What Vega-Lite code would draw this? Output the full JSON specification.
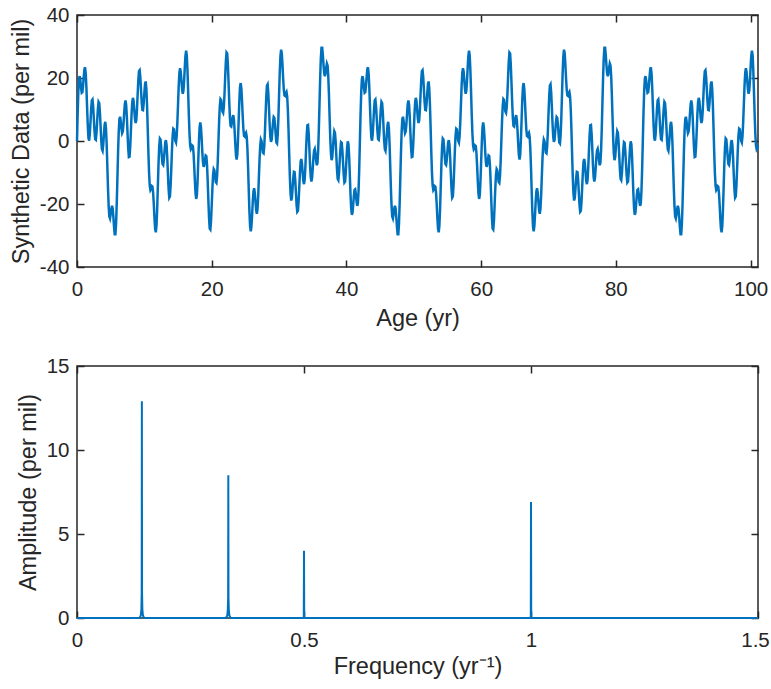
{
"$schema":"https://vega.github.io/schema/vega-lite/v6.json",
"background":"white",
"padding":{"left":8,"top":4,"right":5,"bottom":5},
"spacing":99,
"bounds":"flush",
"config":{
"font":"Liberation Sans",
"view":{"stroke":"#262626","strokeWidth":1.5},
"axis":{"domain":false,"grid":false,"tickSize":-7,"tickColor":"#262626","tickWidth":1.5,"labelFont":"Liberation Sans","labelFontSize":20.5,"labelColor":"#262626","labelFlush":false,"labelOverlap":false,"labelBound":false,"titleFont":"Liberation Sans","titleFontSize":23.5,"titleFontWeight":"normal","titleColor":"#262626"},
"axisX":{"labelPadding":19,"titlePadding":7},
"axisY":{"labelPadding":15,"titlePadding":6}
},
"vconcat":[
{
"width":681,"height":252,
"data":{"values":[
{"t":0,"v":0},{"t":0.1,"v":8.8},{"t":0.2,"v":15.8},{"t":0.3,"v":19.8},{"t":0.4,"v":20.6},{"t":0.5,"v":19.2},{"t":0.6,"v":16.9},{"t":0.7,"v":15.3},{"t":0.8,"v":15.5},{"t":0.9,"v":17.5},
{"t":1,"v":20.4},{"t":1.1,"v":22.8},{"t":1.2,"v":23.4},{"t":1.3,"v":21.3},{"t":1.4,"v":16.7},{"t":1.5,"v":10.6},{"t":1.6,"v":4.9},{"t":1.7,"v":1},{"t":1.8,"v":0.1},{"t":1.9,"v":2.1},
{"t":2,"v":6},{"t":2.1,"v":10.1},{"t":2.2,"v":12.9},{"t":2.3,"v":13.2},{"t":2.4,"v":10.9},{"t":2.5,"v":7.1},{"t":2.6,"v":3.1},{"t":2.7,"v":0.6},{"t":2.8,"v":0.4},{"t":2.9,"v":2.7},
{"t":3,"v":6.5},{"t":3.1,"v":10.2},{"t":3.2,"v":12.4},{"t":3.3,"v":12},{"t":3.4,"v":9.1},{"t":3.5,"v":4.7},{"t":3.6,"v":0.2},{"t":3.7,"v":-2.6},{"t":3.8,"v":-3.1},{"t":3.9,"v":-1.1},
{"t":4,"v":2.2},{"t":4.1,"v":5.1},{"t":4.2,"v":6.1},{"t":4.3,"v":4.1},{"t":4.4,"v":-0.8},{"t":4.5,"v":-7.7},{"t":4.6,"v":-14.9},{"t":4.7,"v":-20.7},{"t":4.8,"v":-24},{"t":4.9,"v":-24.6},
{"t":5,"v":-23.3},{"t":5.1,"v":-21.5},{"t":5.2,"v":-20.6},{"t":5.3,"v":-21.5},{"t":5.4,"v":-24.1},{"t":5.5,"v":-27.3},{"t":5.6,"v":-29.6},{"t":5.7,"v":-29.6},{"t":5.8,"v":-26.3},{"t":5.9,"v":-19.9},
{"t":6,"v":-11.7},{"t":6.1,"v":-3.4},{"t":6.2,"v":3.2},{"t":6.3,"v":7},{"t":6.4,"v":7.7},{"t":6.5,"v":6.2},{"t":6.6,"v":3.9},{"t":6.7,"v":2.5},{"t":6.8,"v":3},{"t":6.9,"v":5.3},
{"t":7,"v":8.7},{"t":7.1,"v":11.7},{"t":7.2,"v":12.9},{"t":7.3,"v":11.5},{"t":7.4,"v":7.7},{"t":7.5,"v":2.5},{"t":7.6,"v":-2.3},{"t":7.7,"v":-5.1},{"t":7.8,"v":-5},{"t":7.9,"v":-1.9},
{"t":8,"v":3.1},{"t":8.1,"v":8.4},{"t":8.2,"v":12.3},{"t":8.3,"v":13.7},{"t":8.4,"v":12.7},{"t":8.5,"v":10},{"t":8.6,"v":7.1},{"t":8.7,"v":5.7},{"t":8.8,"v":6.6},{"t":8.9,"v":9.9},
{"t":9,"v":14.6},{"t":9.1,"v":19.2},{"t":9.2,"v":22.2},{"t":9.3,"v":22.5},{"t":9.4,"v":20.3},{"t":9.5,"v":16.4},{"t":9.6,"v":12.4},{"t":9.7,"v":9.9},{"t":9.8,"v":9.8},{"t":9.9,"v":11.9},
{"t":10,"v":15.2},{"t":10.1,"v":18.1},{"t":10.2,"v":18.9},{"t":10.3,"v":16.6},{"t":10.4,"v":11.3},{"t":10.5,"v":4},{"t":10.6,"v":-3.7},{"t":10.7,"v":-10.2},{"t":10.8,"v":-14.2},{"t":10.9,"v":-15.6},
{"t":11,"v":-15.2},{"t":11.1,"v":-14.3},{"t":11.2,"v":-14.5},{"t":11.3,"v":-16.4},{"t":11.4,"v":-20},{"t":11.5,"v":-24.4},{"t":11.6,"v":-27.9},{"t":11.7,"v":-29},{"t":11.8,"v":-26.9},{"t":11.9,"v":-21.7},
{"t":12,"v":-14.6},{"t":12.1,"v":-7.4},{"t":12.2,"v":-1.9},{"t":12.3,"v":0.8},{"t":12.4,"v":0.5},{"t":12.5,"v":-2},{"t":12.6,"v":-5.1},{"t":12.7,"v":-7.3},{"t":12.8,"v":-7.6},{"t":12.9,"v":-5.9},
{"t":13,"v":-3.1},{"t":13.1,"v":-0.5},{"t":13.2,"v":0.3},{"t":13.3,"v":-1.3},{"t":13.4,"v":-5.3},{"t":13.5,"v":-10.5},{"t":13.6,"v":-15.3},{"t":13.7,"v":-18},{"t":13.8,"v":-17.6},{"t":13.9,"v":-14.1},
{"t":14,"v":-8.7},{"t":14.1,"v":-2.8},{"t":14.2,"v":1.7},{"t":14.3,"v":3.9},{"t":14.4,"v":3.7},{"t":14.5,"v":1.8},{"t":14.6,"v":0},{"t":14.7,"v":-0.5},{"t":14.8,"v":1.5},{"t":14.9,"v":5.9},
{"t":15,"v":11.7},{"t":15.1,"v":17.5},{"t":15.2,"v":21.6},{"t":15.3,"v":23.1},{"t":15.4,"v":22},{"t":15.5,"v":19.3},{"t":15.6,"v":16.5},{"t":15.7,"v":15},{"t":15.8,"v":15.9},{"t":15.9,"v":19},
{"t":16,"v":23.3},{"t":16.1,"v":27},{"t":16.2,"v":28.7},{"t":16.3,"v":27.2},{"t":16.4,"v":22.5},{"t":16.5,"v":15.7},{"t":16.6,"v":8.5},{"t":16.7,"v":2.4},{"t":16.8,"v":-1.4},{"t":16.9,"v":-2.6},
{"t":17,"v":-2.2},{"t":17.1,"v":-1.4},{"t":17.2,"v":-1.6},{"t":17.3,"v":-3.8},{"t":17.4,"v":-7.9},{"t":17.5,"v":-12.7},{"t":17.6,"v":-16.7},{"t":17.7,"v":-18.4},{"t":17.8,"v":-17.1},{"t":17.9,"v":-12.7},
{"t":18,"v":-6.5},{"t":18.1,"v":-0.3},{"t":18.2,"v":4.3},{"t":18.3,"v":5.9},{"t":18.4,"v":4.5},{"t":18.5,"v":0.9},{"t":18.6,"v":-3.3},{"t":18.7,"v":-6.7},{"t":18.8,"v":-8.2},{"t":18.9,"v":-7.6},
{"t":19,"v":-6},{"t":19.1,"v":-4.6},{"t":19.2,"v":-4.8},{"t":19.3,"v":-7.5},{"t":19.4,"v":-12.5},{"t":19.5,"v":-18.6},{"t":19.6,"v":-24.3},{"t":19.7,"v":-27.8},{"t":19.8,"v":-28.1},{"t":19.9,"v":-25.3},
{"t":20,"v":-20.4},{"t":20.1,"v":-15},{"t":20.2,"v":-10.8},{"t":20.3,"v":-8.9},{"t":20.4,"v":-9.3},{"t":20.5,"v":-11.2},{"t":20.6,"v":-13},{"t":20.7,"v":-13.3},{"t":20.8,"v":-11.1},{"t":20.9,"v":-6.3},
{"t":21,"v":0},{"t":21.1,"v":6.3},{"t":21.2,"v":11.1},{"t":21.3,"v":13.3},{"t":21.4,"v":13},{"t":21.5,"v":11.2},{"t":21.6,"v":9.3},{"t":21.7,"v":8.9},{"t":21.8,"v":10.8},{"t":21.9,"v":15},
{"t":22,"v":20.4},{"t":22.1,"v":25.3},{"t":22.2,"v":28.1},{"t":22.3,"v":27.8},{"t":22.4,"v":24.3},{"t":22.5,"v":18.6},{"t":22.6,"v":12.5},{"t":22.7,"v":7.5},{"t":22.8,"v":4.8},{"t":22.9,"v":4.6},
{"t":23,"v":6},{"t":23.1,"v":7.6},{"t":23.2,"v":8.2},{"t":23.3,"v":6.7},{"t":23.4,"v":3.3},{"t":23.5,"v":-0.9},{"t":23.6,"v":-4.5},{"t":23.7,"v":-5.9},{"t":23.8,"v":-4.3},{"t":23.9,"v":0.3},
{"t":24,"v":6.5},{"t":24.1,"v":12.7},{"t":24.2,"v":17.1},{"t":24.3,"v":18.4},{"t":24.4,"v":16.7},{"t":24.5,"v":12.7},{"t":24.6,"v":7.9},{"t":24.7,"v":3.8},{"t":24.8,"v":1.6},{"t":24.9,"v":1.4},
{"t":25,"v":2.2},{"t":25.1,"v":2.6},{"t":25.2,"v":1.4},{"t":25.3,"v":-2.4},{"t":25.4,"v":-8.5},{"t":25.5,"v":-15.7},{"t":25.6,"v":-22.5},{"t":25.7,"v":-27.2},{"t":25.8,"v":-28.7},{"t":25.9,"v":-27},
{"t":26,"v":-23.3},{"t":26.1,"v":-19},{"t":26.2,"v":-15.9},{"t":26.3,"v":-15},{"t":26.4,"v":-16.5},{"t":26.5,"v":-19.3},{"t":26.6,"v":-22},{"t":26.7,"v":-23.1},{"t":26.8,"v":-21.6},{"t":26.9,"v":-17.5},
{"t":27,"v":-11.7},{"t":27.1,"v":-5.9},{"t":27.2,"v":-1.5},{"t":27.3,"v":0.5},{"t":27.4,"v":0},{"t":27.5,"v":-1.8},{"t":27.6,"v":-3.7},{"t":27.7,"v":-3.9},{"t":27.8,"v":-1.7},{"t":27.9,"v":2.8},
{"t":28,"v":8.7},{"t":28.1,"v":14.1},{"t":28.2,"v":17.6},{"t":28.3,"v":18},{"t":28.4,"v":15.3},{"t":28.5,"v":10.5},{"t":28.6,"v":5.3},{"t":28.7,"v":1.3},{"t":28.8,"v":-0.3},{"t":28.9,"v":0.5},
{"t":29,"v":3.1},{"t":29.1,"v":5.9},{"t":29.2,"v":7.6},{"t":29.3,"v":7.3},{"t":29.4,"v":5.1},{"t":29.5,"v":2},{"t":29.6,"v":-0.5},{"t":29.7,"v":-0.8},{"t":29.8,"v":1.9},{"t":29.9,"v":7.4},
{"t":30,"v":14.6},{"t":30.1,"v":21.7},{"t":30.2,"v":26.9},{"t":30.3,"v":29},{"t":30.4,"v":27.9},{"t":30.5,"v":24.4},{"t":30.6,"v":20},{"t":30.7,"v":16.4},{"t":30.8,"v":14.5},{"t":30.9,"v":14.3},
{"t":31,"v":15.2},{"t":31.1,"v":15.6},{"t":31.2,"v":14.2},{"t":31.3,"v":10.2},{"t":31.4,"v":3.7},{"t":31.5,"v":-4},{"t":31.6,"v":-11.3},{"t":31.7,"v":-16.6},{"t":31.8,"v":-18.9},{"t":31.9,"v":-18.1},
{"t":32,"v":-15.2},{"t":32.1,"v":-11.9},{"t":32.2,"v":-9.8},{"t":32.3,"v":-9.9},{"t":32.4,"v":-12.4},{"t":32.5,"v":-16.4},{"t":32.6,"v":-20.3},{"t":32.7,"v":-22.5},{"t":32.8,"v":-22.2},{"t":32.9,"v":-19.2},
{"t":33,"v":-14.6},{"t":33.1,"v":-9.9},{"t":33.2,"v":-6.6},{"t":33.3,"v":-5.7},{"t":33.4,"v":-7.1},{"t":33.5,"v":-10},{"t":33.6,"v":-12.7},{"t":33.7,"v":-13.7},{"t":33.8,"v":-12.3},{"t":33.9,"v":-8.4},
{"t":34,"v":-3.1},{"t":34.1,"v":1.9},{"t":34.2,"v":5},{"t":34.3,"v":5.1},{"t":34.4,"v":2.3},{"t":34.5,"v":-2.5},{"t":34.6,"v":-7.7},{"t":34.7,"v":-11.5},{"t":34.8,"v":-12.9},{"t":34.9,"v":-11.7},
{"t":35,"v":-8.7},{"t":35.1,"v":-5.3},{"t":35.2,"v":-3},{"t":35.3,"v":-2.5},{"t":35.4,"v":-3.9},{"t":35.5,"v":-6.2},{"t":35.6,"v":-7.7},{"t":35.7,"v":-7},{"t":35.8,"v":-3.2},{"t":35.9,"v":3.4},
{"t":36,"v":11.7},{"t":36.1,"v":19.9},{"t":36.2,"v":26.3},{"t":36.3,"v":29.6},{"t":36.4,"v":29.6},{"t":36.5,"v":27.3},{"t":36.6,"v":24.1},{"t":36.7,"v":21.5},{"t":36.8,"v":20.6},{"t":36.9,"v":21.5},
{"t":37,"v":23.3},{"t":37.1,"v":24.6},{"t":37.2,"v":24},{"t":37.3,"v":20.7},{"t":37.4,"v":14.9},{"t":37.5,"v":7.7},{"t":37.6,"v":0.8},{"t":37.7,"v":-4.1},{"t":37.8,"v":-6.1},{"t":37.9,"v":-5.1},
{"t":38,"v":-2.2},{"t":38.1,"v":1.1},{"t":38.2,"v":3.1},{"t":38.3,"v":2.6},{"t":38.4,"v":-0.2},{"t":38.5,"v":-4.7},{"t":38.6,"v":-9.1},{"t":38.7,"v":-12},{"t":38.8,"v":-12.4},{"t":38.9,"v":-10.2},
{"t":39,"v":-6.5},{"t":39.1,"v":-2.7},{"t":39.2,"v":-0.4},{"t":39.3,"v":-0.6},{"t":39.4,"v":-3.1},{"t":39.5,"v":-7.1},{"t":39.6,"v":-10.9},{"t":39.7,"v":-13.2},{"t":39.8,"v":-12.9},{"t":39.9,"v":-10.1},
{"t":40,"v":-6},{"t":40.1,"v":-2.1},{"t":40.2,"v":-0.1},{"t":40.3,"v":-1},{"t":40.4,"v":-4.9},{"t":40.5,"v":-10.6},{"t":40.6,"v":-16.7},{"t":40.7,"v":-21.3},{"t":40.8,"v":-23.4},{"t":40.9,"v":-22.8},
{"t":41,"v":-20.4},{"t":41.1,"v":-17.5},{"t":41.2,"v":-15.5},{"t":41.3,"v":-15.3},{"t":41.4,"v":-16.9},{"t":41.5,"v":-19.2},{"t":41.6,"v":-20.6},{"t":41.7,"v":-19.8},{"t":41.8,"v":-15.8},{"t":41.9,"v":-8.8},
{"t":42,"v":0},{"t":42.1,"v":8.8},{"t":42.2,"v":15.8},{"t":42.3,"v":19.8},{"t":42.4,"v":20.6},{"t":42.5,"v":19.2},{"t":42.6,"v":16.9},{"t":42.7,"v":15.3},{"t":42.8,"v":15.5},{"t":42.9,"v":17.5},
{"t":43,"v":20.4},{"t":43.1,"v":22.8},{"t":43.2,"v":23.4},{"t":43.3,"v":21.3},{"t":43.4,"v":16.7},{"t":43.5,"v":10.6},{"t":43.6,"v":4.9},{"t":43.7,"v":1},{"t":43.8,"v":0.1},{"t":43.9,"v":2.1},
{"t":44,"v":6},{"t":44.1,"v":10.1},{"t":44.2,"v":12.9},{"t":44.3,"v":13.2},{"t":44.4,"v":10.9},{"t":44.5,"v":7.1},{"t":44.6,"v":3.1},{"t":44.7,"v":0.6},{"t":44.8,"v":0.4},{"t":44.9,"v":2.7},
{"t":45,"v":6.5},{"t":45.1,"v":10.2},{"t":45.2,"v":12.4},{"t":45.3,"v":12},{"t":45.4,"v":9.1},{"t":45.5,"v":4.7},{"t":45.6,"v":0.2},{"t":45.7,"v":-2.6},{"t":45.8,"v":-3.1},{"t":45.9,"v":-1.1},
{"t":46,"v":2.2},{"t":46.1,"v":5.1},{"t":46.2,"v":6.1},{"t":46.3,"v":4.1},{"t":46.4,"v":-0.8},{"t":46.5,"v":-7.7},{"t":46.6,"v":-14.9},{"t":46.7,"v":-20.7},{"t":46.8,"v":-24},{"t":46.9,"v":-24.6},
{"t":47,"v":-23.3},{"t":47.1,"v":-21.5},{"t":47.2,"v":-20.6},{"t":47.3,"v":-21.5},{"t":47.4,"v":-24.1},{"t":47.5,"v":-27.3},{"t":47.6,"v":-29.6},{"t":47.7,"v":-29.6},{"t":47.8,"v":-26.3},{"t":47.9,"v":-19.9},
{"t":48,"v":-11.7},{"t":48.1,"v":-3.4},{"t":48.2,"v":3.2},{"t":48.3,"v":7},{"t":48.4,"v":7.7},{"t":48.5,"v":6.2},{"t":48.6,"v":3.9},{"t":48.7,"v":2.5},{"t":48.8,"v":3},{"t":48.9,"v":5.3},
{"t":49,"v":8.7},{"t":49.1,"v":11.7},{"t":49.2,"v":12.9},{"t":49.3,"v":11.5},{"t":49.4,"v":7.7},{"t":49.5,"v":2.5},{"t":49.6,"v":-2.3},{"t":49.7,"v":-5.1},{"t":49.8,"v":-5},{"t":49.9,"v":-1.9},
{"t":50,"v":3.1},{"t":50.1,"v":8.4},{"t":50.2,"v":12.3},{"t":50.3,"v":13.7},{"t":50.4,"v":12.7},{"t":50.5,"v":10},{"t":50.6,"v":7.1},{"t":50.7,"v":5.7},{"t":50.8,"v":6.6},{"t":50.9,"v":9.9},
{"t":51,"v":14.6},{"t":51.1,"v":19.2},{"t":51.2,"v":22.2},{"t":51.3,"v":22.5},{"t":51.4,"v":20.3},{"t":51.5,"v":16.4},{"t":51.6,"v":12.4},{"t":51.7,"v":9.9},{"t":51.8,"v":9.8},{"t":51.9,"v":11.9},
{"t":52,"v":15.2},{"t":52.1,"v":18.1},{"t":52.2,"v":18.9},{"t":52.3,"v":16.6},{"t":52.4,"v":11.3},{"t":52.5,"v":4},{"t":52.6,"v":-3.7},{"t":52.7,"v":-10.2},{"t":52.8,"v":-14.2},{"t":52.9,"v":-15.6},
{"t":53,"v":-15.2},{"t":53.1,"v":-14.3},{"t":53.2,"v":-14.5},{"t":53.3,"v":-16.4},{"t":53.4,"v":-20},{"t":53.5,"v":-24.4},{"t":53.6,"v":-27.9},{"t":53.7,"v":-29},{"t":53.8,"v":-26.9},{"t":53.9,"v":-21.7},
{"t":54,"v":-14.6},{"t":54.1,"v":-7.4},{"t":54.2,"v":-1.9},{"t":54.3,"v":0.8},{"t":54.4,"v":0.5},{"t":54.5,"v":-2},{"t":54.6,"v":-5.1},{"t":54.7,"v":-7.3},{"t":54.8,"v":-7.6},{"t":54.9,"v":-5.9},
{"t":55,"v":-3.1},{"t":55.1,"v":-0.5},{"t":55.2,"v":0.3},{"t":55.3,"v":-1.3},{"t":55.4,"v":-5.3},{"t":55.5,"v":-10.5},{"t":55.6,"v":-15.3},{"t":55.7,"v":-18},{"t":55.8,"v":-17.6},{"t":55.9,"v":-14.1},
{"t":56,"v":-8.7},{"t":56.1,"v":-2.8},{"t":56.2,"v":1.7},{"t":56.3,"v":3.9},{"t":56.4,"v":3.7},{"t":56.5,"v":1.8},{"t":56.6,"v":0},{"t":56.7,"v":-0.5},{"t":56.8,"v":1.5},{"t":56.9,"v":5.9},
{"t":57,"v":11.7},{"t":57.1,"v":17.5},{"t":57.2,"v":21.6},{"t":57.3,"v":23.1},{"t":57.4,"v":22},{"t":57.5,"v":19.3},{"t":57.6,"v":16.5},{"t":57.7,"v":15},{"t":57.8,"v":15.9},{"t":57.9,"v":19},
{"t":58,"v":23.3},{"t":58.1,"v":27},{"t":58.2,"v":28.7},{"t":58.3,"v":27.2},{"t":58.4,"v":22.5},{"t":58.5,"v":15.7},{"t":58.6,"v":8.5},{"t":58.7,"v":2.4},{"t":58.8,"v":-1.4},{"t":58.9,"v":-2.6},
{"t":59,"v":-2.2},{"t":59.1,"v":-1.4},{"t":59.2,"v":-1.6},{"t":59.3,"v":-3.8},{"t":59.4,"v":-7.9},{"t":59.5,"v":-12.7},{"t":59.6,"v":-16.7},{"t":59.7,"v":-18.4},{"t":59.8,"v":-17.1},{"t":59.9,"v":-12.7},
{"t":60,"v":-6.5},{"t":60.1,"v":-0.3},{"t":60.2,"v":4.3},{"t":60.3,"v":5.9},{"t":60.4,"v":4.5},{"t":60.5,"v":0.9},{"t":60.6,"v":-3.3},{"t":60.7,"v":-6.7},{"t":60.8,"v":-8.2},{"t":60.9,"v":-7.6},
{"t":61,"v":-6},{"t":61.1,"v":-4.6},{"t":61.2,"v":-4.8},{"t":61.3,"v":-7.5},{"t":61.4,"v":-12.5},{"t":61.5,"v":-18.6},{"t":61.6,"v":-24.3},{"t":61.7,"v":-27.8},{"t":61.8,"v":-28.1},{"t":61.9,"v":-25.3},
{"t":62,"v":-20.4},{"t":62.1,"v":-15},{"t":62.2,"v":-10.8},{"t":62.3,"v":-8.9},{"t":62.4,"v":-9.3},{"t":62.5,"v":-11.2},{"t":62.6,"v":-13},{"t":62.7,"v":-13.3},{"t":62.8,"v":-11.1},{"t":62.9,"v":-6.3},
{"t":63,"v":0},{"t":63.1,"v":6.3},{"t":63.2,"v":11.1},{"t":63.3,"v":13.3},{"t":63.4,"v":13},{"t":63.5,"v":11.2},{"t":63.6,"v":9.3},{"t":63.7,"v":8.9},{"t":63.8,"v":10.8},{"t":63.9,"v":15},
{"t":64,"v":20.4},{"t":64.1,"v":25.3},{"t":64.2,"v":28.1},{"t":64.3,"v":27.8},{"t":64.4,"v":24.3},{"t":64.5,"v":18.6},{"t":64.6,"v":12.5},{"t":64.7,"v":7.5},{"t":64.8,"v":4.8},{"t":64.9,"v":4.6},
{"t":65,"v":6},{"t":65.1,"v":7.6},{"t":65.2,"v":8.2},{"t":65.3,"v":6.7},{"t":65.4,"v":3.3},{"t":65.5,"v":-0.9},{"t":65.6,"v":-4.5},{"t":65.7,"v":-5.9},{"t":65.8,"v":-4.3},{"t":65.9,"v":0.3},
{"t":66,"v":6.5},{"t":66.1,"v":12.7},{"t":66.2,"v":17.1},{"t":66.3,"v":18.4},{"t":66.4,"v":16.7},{"t":66.5,"v":12.7},{"t":66.6,"v":7.9},{"t":66.7,"v":3.8},{"t":66.8,"v":1.6},{"t":66.9,"v":1.4},
{"t":67,"v":2.2},{"t":67.1,"v":2.6},{"t":67.2,"v":1.4},{"t":67.3,"v":-2.4},{"t":67.4,"v":-8.5},{"t":67.5,"v":-15.7},{"t":67.6,"v":-22.5},{"t":67.7,"v":-27.2},{"t":67.8,"v":-28.7},{"t":67.9,"v":-27},
{"t":68,"v":-23.3},{"t":68.1,"v":-19},{"t":68.2,"v":-15.9},{"t":68.3,"v":-15},{"t":68.4,"v":-16.5},{"t":68.5,"v":-19.3},{"t":68.6,"v":-22},{"t":68.7,"v":-23.1},{"t":68.8,"v":-21.6},{"t":68.9,"v":-17.5},
{"t":69,"v":-11.7},{"t":69.1,"v":-5.9},{"t":69.2,"v":-1.5},{"t":69.3,"v":0.5},{"t":69.4,"v":0},{"t":69.5,"v":-1.8},{"t":69.6,"v":-3.7},{"t":69.7,"v":-3.9},{"t":69.8,"v":-1.7},{"t":69.9,"v":2.8},
{"t":70,"v":8.7},{"t":70.1,"v":14.1},{"t":70.2,"v":17.6},{"t":70.3,"v":18},{"t":70.4,"v":15.3},{"t":70.5,"v":10.5},{"t":70.6,"v":5.3},{"t":70.7,"v":1.3},{"t":70.8,"v":-0.3},{"t":70.9,"v":0.5},
{"t":71,"v":3.1},{"t":71.1,"v":5.9},{"t":71.2,"v":7.6},{"t":71.3,"v":7.3},{"t":71.4,"v":5.1},{"t":71.5,"v":2},{"t":71.6,"v":-0.5},{"t":71.7,"v":-0.8},{"t":71.8,"v":1.9},{"t":71.9,"v":7.4},
{"t":72,"v":14.6},{"t":72.1,"v":21.7},{"t":72.2,"v":26.9},{"t":72.3,"v":29},{"t":72.4,"v":27.9},{"t":72.5,"v":24.4},{"t":72.6,"v":20},{"t":72.7,"v":16.4},{"t":72.8,"v":14.5},{"t":72.9,"v":14.3},
{"t":73,"v":15.2},{"t":73.1,"v":15.6},{"t":73.2,"v":14.2},{"t":73.3,"v":10.2},{"t":73.4,"v":3.7},{"t":73.5,"v":-4},{"t":73.6,"v":-11.3},{"t":73.7,"v":-16.6},{"t":73.8,"v":-18.9},{"t":73.9,"v":-18.1},
{"t":74,"v":-15.2},{"t":74.1,"v":-11.9},{"t":74.2,"v":-9.8},{"t":74.3,"v":-9.9},{"t":74.4,"v":-12.4},{"t":74.5,"v":-16.4},{"t":74.6,"v":-20.3},{"t":74.7,"v":-22.5},{"t":74.8,"v":-22.2},{"t":74.9,"v":-19.2},
{"t":75,"v":-14.6},{"t":75.1,"v":-9.9},{"t":75.2,"v":-6.6},{"t":75.3,"v":-5.7},{"t":75.4,"v":-7.1},{"t":75.5,"v":-10},{"t":75.6,"v":-12.7},{"t":75.7,"v":-13.7},{"t":75.8,"v":-12.3},{"t":75.9,"v":-8.4},
{"t":76,"v":-3.1},{"t":76.1,"v":1.9},{"t":76.2,"v":5},{"t":76.3,"v":5.1},{"t":76.4,"v":2.3},{"t":76.5,"v":-2.5},{"t":76.6,"v":-7.7},{"t":76.7,"v":-11.5},{"t":76.8,"v":-12.9},{"t":76.9,"v":-11.7},
{"t":77,"v":-8.7},{"t":77.1,"v":-5.3},{"t":77.2,"v":-3},{"t":77.3,"v":-2.5},{"t":77.4,"v":-3.9},{"t":77.5,"v":-6.2},{"t":77.6,"v":-7.7},{"t":77.7,"v":-7},{"t":77.8,"v":-3.2},{"t":77.9,"v":3.4},
{"t":78,"v":11.7},{"t":78.1,"v":19.9},{"t":78.2,"v":26.3},{"t":78.3,"v":29.6},{"t":78.4,"v":29.6},{"t":78.5,"v":27.3},{"t":78.6,"v":24.1},{"t":78.7,"v":21.5},{"t":78.8,"v":20.6},{"t":78.9,"v":21.5},
{"t":79,"v":23.3},{"t":79.1,"v":24.6},{"t":79.2,"v":24},{"t":79.3,"v":20.7},{"t":79.4,"v":14.9},{"t":79.5,"v":7.7},{"t":79.6,"v":0.8},{"t":79.7,"v":-4.1},{"t":79.8,"v":-6.1},{"t":79.9,"v":-5.1},
{"t":80,"v":-2.2},{"t":80.1,"v":1.1},{"t":80.2,"v":3.1},{"t":80.3,"v":2.6},{"t":80.4,"v":-0.2},{"t":80.5,"v":-4.7},{"t":80.6,"v":-9.1},{"t":80.7,"v":-12},{"t":80.8,"v":-12.4},{"t":80.9,"v":-10.2},
{"t":81,"v":-6.5},{"t":81.1,"v":-2.7},{"t":81.2,"v":-0.4},{"t":81.3,"v":-0.6},{"t":81.4,"v":-3.1},{"t":81.5,"v":-7.1},{"t":81.6,"v":-10.9},{"t":81.7,"v":-13.2},{"t":81.8,"v":-12.9},{"t":81.9,"v":-10.1},
{"t":82,"v":-6},{"t":82.1,"v":-2.1},{"t":82.2,"v":-0.1},{"t":82.3,"v":-1},{"t":82.4,"v":-4.9},{"t":82.5,"v":-10.6},{"t":82.6,"v":-16.7},{"t":82.7,"v":-21.3},{"t":82.8,"v":-23.4},{"t":82.9,"v":-22.8},
{"t":83,"v":-20.4},{"t":83.1,"v":-17.5},{"t":83.2,"v":-15.5},{"t":83.3,"v":-15.3},{"t":83.4,"v":-16.9},{"t":83.5,"v":-19.2},{"t":83.6,"v":-20.6},{"t":83.7,"v":-19.8},{"t":83.8,"v":-15.8},{"t":83.9,"v":-8.8},
{"t":84,"v":0},{"t":84.1,"v":8.8},{"t":84.2,"v":15.8},{"t":84.3,"v":19.8},{"t":84.4,"v":20.6},{"t":84.5,"v":19.2},{"t":84.6,"v":16.9},{"t":84.7,"v":15.3},{"t":84.8,"v":15.5},{"t":84.9,"v":17.5},
{"t":85,"v":20.4},{"t":85.1,"v":22.8},{"t":85.2,"v":23.4},{"t":85.3,"v":21.3},{"t":85.4,"v":16.7},{"t":85.5,"v":10.6},{"t":85.6,"v":4.9},{"t":85.7,"v":1},{"t":85.8,"v":0.1},{"t":85.9,"v":2.1},
{"t":86,"v":6},{"t":86.1,"v":10.1},{"t":86.2,"v":12.9},{"t":86.3,"v":13.2},{"t":86.4,"v":10.9},{"t":86.5,"v":7.1},{"t":86.6,"v":3.1},{"t":86.7,"v":0.6},{"t":86.8,"v":0.4},{"t":86.9,"v":2.7},
{"t":87,"v":6.5},{"t":87.1,"v":10.2},{"t":87.2,"v":12.4},{"t":87.3,"v":12},{"t":87.4,"v":9.1},{"t":87.5,"v":4.7},{"t":87.6,"v":0.2},{"t":87.7,"v":-2.6},{"t":87.8,"v":-3.1},{"t":87.9,"v":-1.1},
{"t":88,"v":2.2},{"t":88.1,"v":5.1},{"t":88.2,"v":6.1},{"t":88.3,"v":4.1},{"t":88.4,"v":-0.8},{"t":88.5,"v":-7.7},{"t":88.6,"v":-14.9},{"t":88.7,"v":-20.7},{"t":88.8,"v":-24},{"t":88.9,"v":-24.6},
{"t":89,"v":-23.3},{"t":89.1,"v":-21.5},{"t":89.2,"v":-20.6},{"t":89.3,"v":-21.5},{"t":89.4,"v":-24.1},{"t":89.5,"v":-27.3},{"t":89.6,"v":-29.6},{"t":89.7,"v":-29.6},{"t":89.8,"v":-26.3},{"t":89.9,"v":-19.9},
{"t":90,"v":-11.7},{"t":90.1,"v":-3.4},{"t":90.2,"v":3.2},{"t":90.3,"v":7},{"t":90.4,"v":7.7},{"t":90.5,"v":6.2},{"t":90.6,"v":3.9},{"t":90.7,"v":2.5},{"t":90.8,"v":3},{"t":90.9,"v":5.3},
{"t":91,"v":8.7},{"t":91.1,"v":11.7},{"t":91.2,"v":12.9},{"t":91.3,"v":11.5},{"t":91.4,"v":7.7},{"t":91.5,"v":2.5},{"t":91.6,"v":-2.3},{"t":91.7,"v":-5.1},{"t":91.8,"v":-5},{"t":91.9,"v":-1.9},
{"t":92,"v":3.1},{"t":92.1,"v":8.4},{"t":92.2,"v":12.3},{"t":92.3,"v":13.7},{"t":92.4,"v":12.7},{"t":92.5,"v":10},{"t":92.6,"v":7.1},{"t":92.7,"v":5.7},{"t":92.8,"v":6.6},{"t":92.9,"v":9.9},
{"t":93,"v":14.6},{"t":93.1,"v":19.2},{"t":93.2,"v":22.2},{"t":93.3,"v":22.5},{"t":93.4,"v":20.3},{"t":93.5,"v":16.4},{"t":93.6,"v":12.4},{"t":93.7,"v":9.9},{"t":93.8,"v":9.8},{"t":93.9,"v":11.9},
{"t":94,"v":15.2},{"t":94.1,"v":18.1},{"t":94.2,"v":18.9},{"t":94.3,"v":16.6},{"t":94.4,"v":11.3},{"t":94.5,"v":4},{"t":94.6,"v":-3.7},{"t":94.7,"v":-10.2},{"t":94.8,"v":-14.2},{"t":94.9,"v":-15.6},
{"t":95,"v":-15.2},{"t":95.1,"v":-14.3},{"t":95.2,"v":-14.5},{"t":95.3,"v":-16.4},{"t":95.4,"v":-20},{"t":95.5,"v":-24.4},{"t":95.6,"v":-27.9},{"t":95.7,"v":-29},{"t":95.8,"v":-26.9},{"t":95.9,"v":-21.7},
{"t":96,"v":-14.6},{"t":96.1,"v":-7.4},{"t":96.2,"v":-1.9},{"t":96.3,"v":0.8},{"t":96.4,"v":0.5},{"t":96.5,"v":-2},{"t":96.6,"v":-5.1},{"t":96.7,"v":-7.3},{"t":96.8,"v":-7.6},{"t":96.9,"v":-5.9},
{"t":97,"v":-3.1},{"t":97.1,"v":-0.5},{"t":97.2,"v":0.3},{"t":97.3,"v":-1.3},{"t":97.4,"v":-5.3},{"t":97.5,"v":-10.5},{"t":97.6,"v":-15.3},{"t":97.7,"v":-18},{"t":97.8,"v":-17.6},{"t":97.9,"v":-14.1},
{"t":98,"v":-8.7},{"t":98.1,"v":-2.8},{"t":98.2,"v":1.7},{"t":98.3,"v":3.9},{"t":98.4,"v":3.7},{"t":98.5,"v":1.8},{"t":98.6,"v":0},{"t":98.7,"v":-0.5},{"t":98.8,"v":1.5},{"t":98.9,"v":5.9},
{"t":99,"v":11.7},{"t":99.1,"v":17.5},{"t":99.2,"v":21.6},{"t":99.3,"v":23.1},{"t":99.4,"v":22},{"t":99.5,"v":19.3},{"t":99.6,"v":16.5},{"t":99.7,"v":15},{"t":99.8,"v":15.9},{"t":99.9,"v":19},
{"t":100,"v":23.3},{"t":100.1,"v":27},{"t":100.2,"v":28.7},{"t":100.3,"v":27.2},{"t":100.4,"v":22.5},{"t":100.5,"v":15.7},{"t":100.6,"v":8.5},{"t":100.7,"v":2.4},{"t":100.8,"v":-1.4},{"t":100.9,"v":-2.6},
{"t":101,"v":-2.2},{"t":101.1,"v":-1.4}
]},
"layer":[
{"mark":{"type":"line","color":"#0072BD","strokeWidth":2.5},
"encoding":{
"x":{"field":"t","type":"quantitative","scale":{"domain":[0,101.1],"nice":false,"zero":false},"axis":{"orient":"bottom","values":[0,20,40,60,80,100],"title":"Age (yr)","labelExpr":"'' + datum.value"}},
"y":{"field":"v","type":"quantitative","scale":{"domain":[-40,40],"nice":false},"axis":{"orient":"left","values":[-40,-20,0,20,40],"title":"Synthetic Data (per mil)","labelExpr":"'' + datum.value"}}
}},
{"mark":{"type":"point","opacity":0},
"encoding":{
"x":{"field":"t","type":"quantitative","scale":{"domain":[0,101.1],"nice":false,"zero":false},"axis":{"orient":"top","values":[0,20,40,60,80,100],"labels":false,"title":null}},
"y":{"field":"v","type":"quantitative","scale":{"domain":[-40,40],"nice":false},"axis":{"orient":"right","values":[-40,-20,0,20,40],"labels":false,"title":null}}
}}
],
"resolve":{"axis":{"x":"independent","y":"independent"}}
},
{
"width":681,"height":252,
"data":{"values":[
{"f":0,"a":0},{"f":0.138,"a":0},{"f":0.1405,"a":0.15},{"f":0.1418,"a":0.5},{"f":0.1425,"a":1.5},{"f":0.1429,"a":12.9},{"f":0.1433,"a":1.5},{"f":0.144,"a":0.5},{"f":0.1453,"a":0.15},{"f":0.1478,"a":0},
{"f":0.328,"a":0},{"f":0.331,"a":0.15},{"f":0.3322,"a":0.5},{"f":0.3329,"a":1.2},{"f":0.3333,"a":8.5},{"f":0.3337,"a":1.2},{"f":0.3344,"a":0.5},{"f":0.3356,"a":0.15},{"f":0.3386,"a":0},
{"f":0.4995,"a":0},{"f":0.5,"a":4},{"f":0.5005,"a":0},
{"f":0.9995,"a":0},{"f":1,"a":6.9},{"f":1.0005,"a":0},
{"f":1.5,"a":0}
]},
"layer":[
{"mark":{"type":"line","color":"#0072BD","strokeWidth":2},
"encoding":{
"x":{"field":"f","type":"quantitative","scale":{"domain":[0,1.5],"nice":false,"zero":false},"axis":{"orient":"bottom","values":[0,0.5,1,1.5],"title":"Frequency (yr⁻¹)","titlePadding":4,"labelOffset":{"condition":{"test":"datum.value == 1.5","value":-3},"value":0},"labelExpr":"'' + datum.value"}},
"y":{"field":"a","type":"quantitative","scale":{"domain":[0,15],"nice":false},"axis":{"orient":"left","values":[0,5,10,15],"title":"Amplitude (per mil)","labelExpr":"'' + datum.value"}}
}},
{"mark":{"type":"point","opacity":0},
"encoding":{
"x":{"field":"f","type":"quantitative","scale":{"domain":[0,1.5],"nice":false,"zero":false},"axis":{"orient":"top","values":[0,0.5,1,1.5],"labels":false,"title":null}},
"y":{"field":"a","type":"quantitative","scale":{"domain":[0,15],"nice":false},"axis":{"orient":"right","values":[0,5,10,15],"labels":false,"title":null}}
}}
],
"resolve":{"axis":{"x":"independent","y":"independent"}}
}
]
}
